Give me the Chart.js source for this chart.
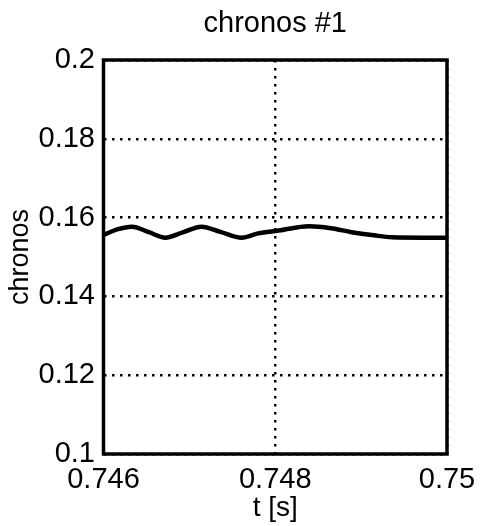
<!DOCTYPE html>
<html>
<head>
<meta charset="utf-8">
<script src="https://cdn.jsdelivr.net/npm/chart.js@4.4.0/dist/chart.umd.min.js"></script>
<style>
  html, body { margin: 0; padding: 0; background: #fff; }
  #wrap { width: 480px; height: 526px; }
</style>
</head>
<body>
<div id="wrap"><canvas id="chronosChart" width="480" height="526"></canvas></div>
<script>
// chronos #1 time trace
const times = [0.74600, 0.74616, 0.74633, 0.74653, 0.74672, 0.74693, 0.74714, 0.74737, 0.74761,
               0.74780, 0.74804, 0.74839, 0.74865, 0.74889, 0.74915, 0.74936, 0.74970, 0.75000];
const chronos = [0.1556, 0.1570, 0.1577, 0.1563, 0.1549, 0.1563, 0.1577, 0.1563, 0.1549,
                 0.1560, 0.1567, 0.1578, 0.1573, 0.1563, 0.1555, 0.1550, 0.1549, 0.1549];
const xTicks = [0.746, 0.748, 0.75];
const yTicks = [0.1, 0.12, 0.14, 0.16, 0.18, 0.2];

const FONT = '"Liberation Sans", Arial, Helvetica, sans-serif';

// thick box round the plot area
const frame = {
  id: 'frame',
  afterDraw(chart) {
    const a = chart.chartArea;
    const c = chart.ctx;
    c.save();
    c.strokeStyle = '#000';
    c.lineWidth = 3.5;
    c.strokeRect(a.left, a.top, a.right - a.left, a.bottom - a.top);
    c.restore();
  }
};

const dotted = {
  color: '#000',
  lineWidth: 2.5,
  drawTicks: false
};

new Chart(document.getElementById('chronosChart'), {
  type: 'line',
  data: {
    datasets: [{
      data: times.map((t, i) => ({ x: t, y: chronos[i] })),
      borderColor: '#000',
      borderWidth: 4.5,
      pointRadius: 0,
      cubicInterpolationMode: 'monotone',
      fill: false
    }]
  },
  options: {
    responsive: false,
    animation: false,
    layout: { padding: { left: 0, right: 33, top: 0, bottom: 0 } },
    plugins: {
      legend: { display: false },
      tooltip: { enabled: false },
      title: {
        display: true,
        fullSize: false,
        text: 'chronos #1',
        color: '#000',
        font: { family: FONT, size: 29, weight: 'normal' },
        padding: { top: 6.6, bottom: 18.6 }
      }
    },
    scales: {
      x: {
        type: 'linear',
        min: 0.746,
        max: 0.75,
        afterBuildTicks: s => { s.ticks = xTicks.map(v => ({ value: v })); },
        afterFit: s => {
          s.height = 72;
          s.paddingLeft = 0;
          s.paddingRight = 0;
        },
        border: { display: false, dash: [2.5, 5.5] },
        grid: dotted,
        ticks: {
          color: '#000',
          padding: 9,
          maxRotation: 0,
          font: { family: FONT, size: 29 },
          callback: v => String(+v.toFixed(3))
        },
        title: {
          display: true,
          text: 't [s]',
          color: '#000',
          font: { family: FONT, size: 28 },
          padding: { top: 0, bottom: 1 }
        }
      },
      y: {
        min: 0.1,
        max: 0.2,
        afterBuildTicks: s => { s.ticks = yTicks.map(v => ({ value: v })); },
        afterFit: s => { s.width = 103.5; },
        border: { display: false, dash: [2.5, 5.5] },
        grid: dotted,
        ticks: {
          color: '#000',
          padding: 8.5,
          font: { family: FONT, size: 29 },
          callback: v => String(+v.toFixed(2))
        },
        title: {
          display: true,
          text: 'chronos',
          color: '#000',
          font: { family: FONT, size: 27 },
          padding: { top: 4, bottom: 0 }
        }
      }
    }
  },
  plugins: [frame]
});
</script>
</body>
</html>
